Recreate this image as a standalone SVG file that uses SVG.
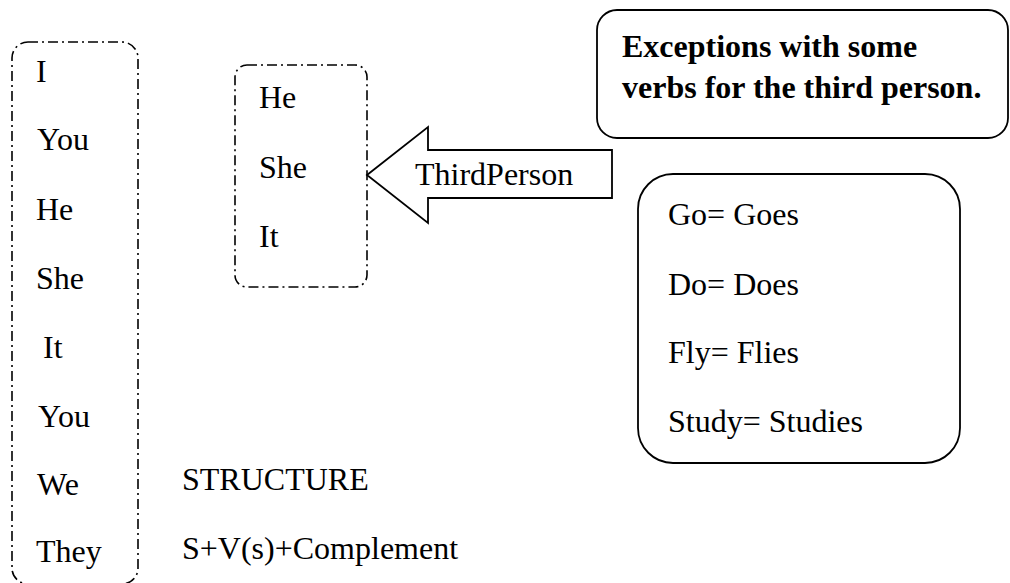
<svg xmlns="http://www.w3.org/2000/svg" width="1010" height="583" viewBox="0 0 1010 583">
<style>
.t{font-family:"Liberation Serif","Times New Roman",serif;font-size:32px;fill:#000}
.b{font-weight:bold}
.dd{fill:none;stroke:#000;stroke-width:1.6;stroke-dasharray:10 4 2 4}
.solid{fill:#fff;stroke:#000;stroke-width:1.8}
</style>
<rect width="1010" height="583" fill="#fff"/>
<g id="pronouns">
<rect class="dd" x="12" y="42" width="126" height="542" rx="16"/>
<text class="t" x="36" y="82">I</text>
<text class="t" x="37" y="150">You</text>
<text class="t" x="36" y="220">He</text>
<text class="t" x="36" y="289">She</text>
<text class="t" x="43" y="358">It</text>
<text class="t" x="38" y="427">You</text>
<text class="t" x="37" y="495">We</text>
<text class="t" x="36" y="562">They</text>
</g>
<g id="third-person">
<rect class="dd" x="235" y="65" width="132" height="222" rx="12"/>
<text class="t" x="259" y="108">He</text>
<text class="t" x="259" y="178">She</text>
<text class="t" x="259" y="247">It</text>
</g>
<g id="connectors">
<polygon class="solid" points="367,175 428,127 428,150 612,150 612,198 428,198 428,223"/>
<text class="t" x="415" y="185">ThirdPerson</text>
</g>
<g id="title">
<rect class="solid" x="597" y="10" width="411" height="128" rx="20"/>
<text class="t b" x="622" y="57">Exceptions with some</text>
<text class="t b" x="622" y="98">verbs for the third person.</text>
</g>
<g id="verbs">
<rect class="solid" x="638" y="174" width="322" height="289" rx="35"/>
<text class="t" x="668" y="225">Go= Goes</text>
<text class="t" x="668" y="295">Do= Does</text>
<text class="t" x="668" y="363">Fly= Flies</text>
<text class="t" x="668" y="432">Study= Studies</text>
</g>
<g id="structure">
<text class="t" x="182" y="490">STRUCTURE</text>
<text class="t" x="182" y="559">S+V(s)+Complement</text>
</g>
</svg>
